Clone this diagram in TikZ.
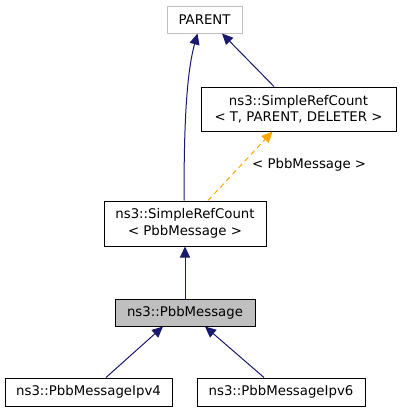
\documentclass[tikz,border=0pt]{standalone}
\usepackage{fontspec}
\setmainfont{DejaVu Sans}
\usepackage{xcolor}
\usetikzlibrary{positioning,arrows.meta,calc}

\definecolor{edgeblue}{HTML}{191970}
\definecolor{edgeorange}{HTML}{FFA500}
\definecolor{boxgray}{HTML}{BFBFBF}

\tikzset{
  classbox/.style={draw=black, line width=1pt, inner sep=0pt, align=center, font=\fontsize{13.3}{16.5}\selectfont},
  inherit/.style={draw=edgeblue, line width=1pt, -{Triangle[length=11pt,width=10pt,fill=edgeblue]}},
  templ/.style={draw=edgeorange, line width=1pt, dash pattern=on 5pt off 4pt, -{Triangle[length=11pt,width=10pt,fill=edgeorange]}}
}

\begin{document}
\begin{tikzpicture}[x=1pt,y=-1pt]
   \useasboundingbox (0,0) rectangle (401,413);

         \node[classbox, draw=boxgray, minimum width=75pt, minimum height=27pt] (parent) at (204.5, 19.5){PARENT};
         \node[classbox, minimum width=195pt, minimum height=44pt] (srctpd) at (298.5, 109){ns3::SimpleRefCount\\< T, PARENT, DELETER >};
         \node[classbox, minimum width=162pt, minimum height=45pt] (srcpbb) at (185, 223.5){ns3::SimpleRefCount\\< PbbMessage >};
         \node[classbox, fill=boxgray, minimum width=140pt, minimum height=27pt] (pbbmsg) at (185, 312.5){ns3::PbbMessage};
         \node[classbox, minimum width=167pt, minimum height=28pt] (ipv4) at (88.5, 392){ns3::PbbMessageIpv4};
         \node[classbox, minimum width=168pt, minimum height=28pt] (ipv6) at (281, 392){ns3::PbbMessageIpv6};

             \draw[inherit] ([xshift=-1pt]srcpbb.north) .. controls (184, 130) and (186, 75) .. ([xshift=-7pt]parent.south);
             \draw[inherit] ([xshift=-24.5pt]srctpd.north) to ([xshift=17.5pt]parent.south);
             \draw[templ] ([xshift=23pt]srcpbb.north) to ([xshift=-26pt]srctpd.south);
                 \node[anchor=west, inner sep=0pt, font=\fontsize{13.3}{16}\selectfont] (tlabel) at (252, 165){< PbbMessage >};
             \draw[inherit] (pbbmsg.north) to (srcpbb.south);
             \draw[inherit] ([xshift=17.5pt]ipv4.north) to ([xshift=-22pt]pbbmsg.south);
             \draw[inherit] ([xshift=-17pt]ipv6.north) to ([xshift=20pt]pbbmsg.south);

     \end{tikzpicture}
\end{document}
